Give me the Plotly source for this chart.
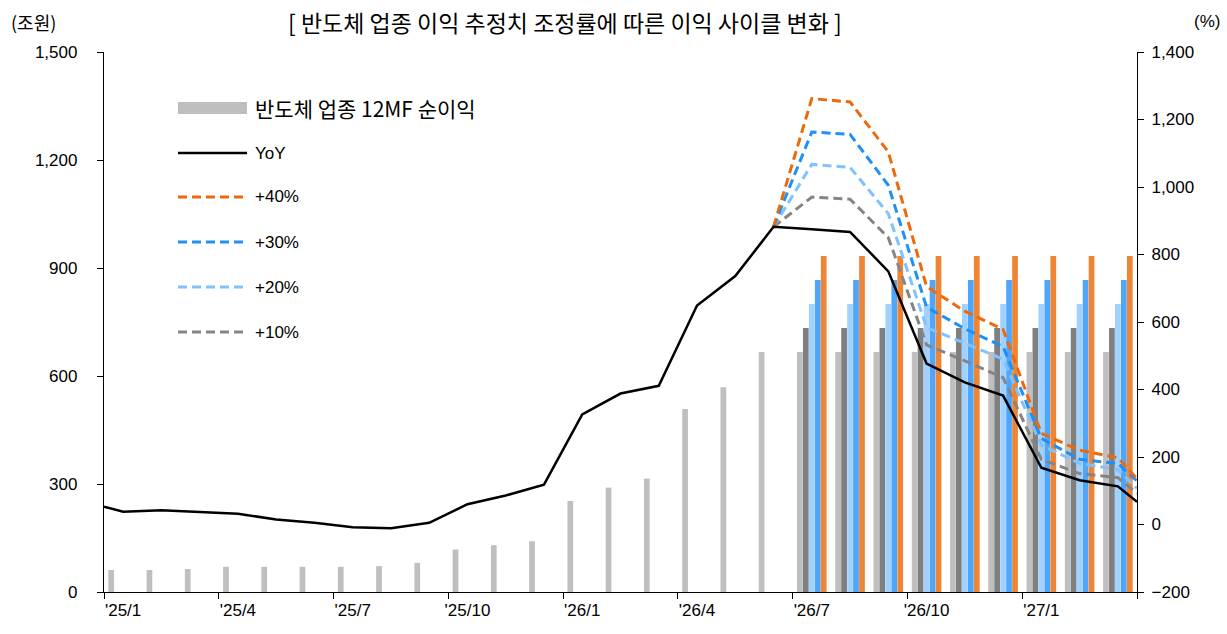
import plotly.graph_objects as go

# ── 데이터 ─────────────────────────────────────────────
months = ["'25/1", "'25/2", "'25/3", "'25/4", "'25/5", "'25/6", "'25/7", "'25/8", "'25/9",
          "'25/10", "'25/11", "'25/12", "'26/1", "'26/2", "'26/3", "'26/4", "'26/5", "'26/6",
          "'26/7", "'26/8", "'26/9", "'26/10", "'26/11", "'26/12", "'27/1", "'27/2", "'27/3"]
tick_labels = ["'25/1", "'25/4", "'25/7", "'25/10", "'26/1", "'26/4", "'26/7", "'26/10", "'27/1"]

# 반도체 업종 12MF 순이익 (조원)
profit = [61, 61, 64, 70, 70, 70, 70, 72, 81, 118, 130, 141, 253, 290, 315, 508, 569, 667,
          667, 667, 667, 667, 667, 667, 667, 667, 667]
# 조정률별 순이익 (조원), '26/7부터
profit_p10 = [None] * 18 + [733] * 9
profit_p20 = [None] * 18 + [800] * 9
profit_p30 = [None] * 18 + [867] * 9
profit_p40 = [None] * 18 + [933] * 9

# YoY (%) - 월별 + 좌우 끝값
yoy = [38, 42, 38, 32, 15, 5, -8, -11, 5, 60, 86, 118, 326, 388, 411, 649, 736, 882,
       875, 867, 750, 477, 421, 382, 168, 131, 113]
yoy_edges = (53, 67)

# 조정률 시나리오 YoY (%), '26/6부터 + 오른쪽 끝값
scen_start = 17
yoy_p40 = [882, 1262, 1252, 1104, 705, 632, 578, 270, 220, 198, 136]
yoy_p30 = [882, 1163, 1156, 1005, 644, 580, 527, 255, 193, 181, 129]
yoy_p20 = [882, 1067, 1058, 921, 584, 536, 490, 235, 181, 163, 107]
yoy_p10 = [882, 970, 964, 850, 532, 485, 435, 193, 151, 139, 92]

# ── 스타일 ─────────────────────────────────────────────
LATIN = "Liberation Sans, Arial, Noto Sans CJK KR, sans-serif"
KOREAN = "Noto Sans CJK KR, sans-serif"
W, H = 1227, 634
L, R, T, B = 104, 90, 52, 42
PW, PH = W - L - R, H - T - B

bar_colors = ["#BFBFBF", "#7F7F7F", "#A0D1FF", "#4DA6FA", "#EE8535"]
line_colors = {"+40%": "#EC6A0C", "+30%": "#1F90F5", "+20%": "#80C2FF", "+10%": "#858585"}
DASH = "9px,5px"


def px_x(x):
    return (x - L) / PW


def px_y(y):
    return (H - B - y) / PH


n = len(months)
xs = list(range(n))

fig = go.Figure()

for vals, col, name in zip([profit, profit_p10, profit_p20, profit_p30, profit_p40], bar_colors,
                           ["반도체 업종 12MF 순이익", "+10%", "+20%", "+30%", "+40%"]):
    fig.add_trace(go.Bar(x=xs, y=vals, name=name, marker_color=col, marker_line_width=0,
                         yaxis="y", showlegend=False))

scen_x = list(range(scen_start, n)) + [n - 0.5]
for name, vals in [("+10%", yoy_p10), ("+20%", yoy_p20), ("+30%", yoy_p30), ("+40%", yoy_p40)]:
    fig.add_trace(go.Scatter(x=scen_x, y=vals, name=name, mode="lines", yaxis="y2",
                             line=dict(color=line_colors[name], width=3, dash=DASH),
                             showlegend=False))

fig.add_trace(go.Scatter(x=[-0.5] + xs + [n - 0.5], y=[yoy_edges[0]] + yoy + [yoy_edges[1]],
                         name="YoY", mode="lines", yaxis="y2",
                         line=dict(color="black", width=2.5), showlegend=False))

# ── 범례 (수동) ─────────────────────────────────────────
shapes = []
annotations = []
legend_rows = [
    ("bar", "#BFBFBF", "반도체 업종 12MF 순이익", 108),
    ("solid", "black", "YoY", 153),
    ("dash", line_colors["+40%"], "+40%", 197),
    ("dash", line_colors["+30%"], "+30%", 242),
    ("dash", line_colors["+20%"], "+20%", 287),
    ("dash", line_colors["+10%"], "+10%", 332),
]
for kind, col, label, yc in legend_rows:
    if kind == "bar":
        shapes.append(dict(type="rect", xref="paper", yref="paper", x0=px_x(178), x1=px_x(247),
                           y0=px_y(yc + 6), y1=px_y(yc - 6), fillcolor=col, line_width=0))
        fam, size = KOREAN, 21
    else:
        shapes.append(dict(type="line", xref="paper", yref="paper", x0=px_x(178), x1=px_x(247),
                           y0=px_y(yc), y1=px_y(yc),
                           line=dict(color=col, width=2.5 if kind == "solid" else 3,
                                     dash="solid" if kind == "solid" else DASH)))
        fam, size = LATIN, 17
    annotations.append(dict(text=label, xref="paper", yref="paper", x=px_x(253), y=px_y(yc),
                            xanchor="left", yanchor="middle", showarrow=False,
                            font=dict(family=fam, size=size, color="black")))

annotations += [
    dict(text="[ 반도체 업종 이익 추정치 조정률에 따른 이익 사이클 변화 ]", xref="paper", yref="paper",
         x=px_x(565), y=px_y(22), xanchor="center", yanchor="middle", showarrow=False,
         font=dict(family=KOREAN, size=23, color="black")),
    dict(text="(조원)", xref="paper", yref="paper", x=px_x(9), y=px_y(22),
         xanchor="left", yanchor="middle", showarrow=False,
         font=dict(family=KOREAN, size=18, color="black")),
    dict(text="(%)", xref="paper", yref="paper", x=px_x(1222), y=px_y(22),
         xanchor="right", yanchor="middle", showarrow=False,
         font=dict(family=LATIN, size=17, color="black")),
]

tick_pos = [months.index(t) for t in tick_labels]

fig.update_layout(
    width=W, height=H,
    margin=dict(l=L, r=R, t=T, b=B),
    paper_bgcolor="white", plot_bgcolor="white",
    barmode="group", bargap=0.22, bargroupgap=0.04,
    font=dict(family=LATIN, size=17, color="black"),
    showlegend=False,
    shapes=shapes,
    annotations=annotations,
    xaxis=dict(range=[-0.5, n - 0.5], tickvals=tick_pos, ticktext=tick_labels, ticks="",
               showline=True, linecolor="black", linewidth=1.3, showgrid=False, zeroline=False,
               ticklabelstandoff=2,
               minor=dict(tickvals=[p - 0.5 for p in tick_pos] + [n - 0.5], ticks="outside",
                          ticklen=6, tickcolor="black", tickwidth=1.3, showgrid=False)),
    yaxis=dict(range=[0, 1500], dtick=300, tickformat=",", ticks="outside", ticklen=6,
               tickcolor="black", tickwidth=1.3, showline=True, linecolor="black", linewidth=1.3,
               showgrid=False, zeroline=False, ticklabelstandoff=16),
    yaxis2=dict(range=[-200, 1400], dtick=200, tickformat=",", ticks="outside", ticklen=6,
                tickcolor="black", tickwidth=1.3, showline=True, linecolor="black", linewidth=1.3,
                showgrid=False, zeroline=False, overlaying="y", side="right", ticklabelstandoff=4),
)

fig.write_html("out.html", config={"displayModeBar": False},
               post_script="document.body.style.margin='0';")
